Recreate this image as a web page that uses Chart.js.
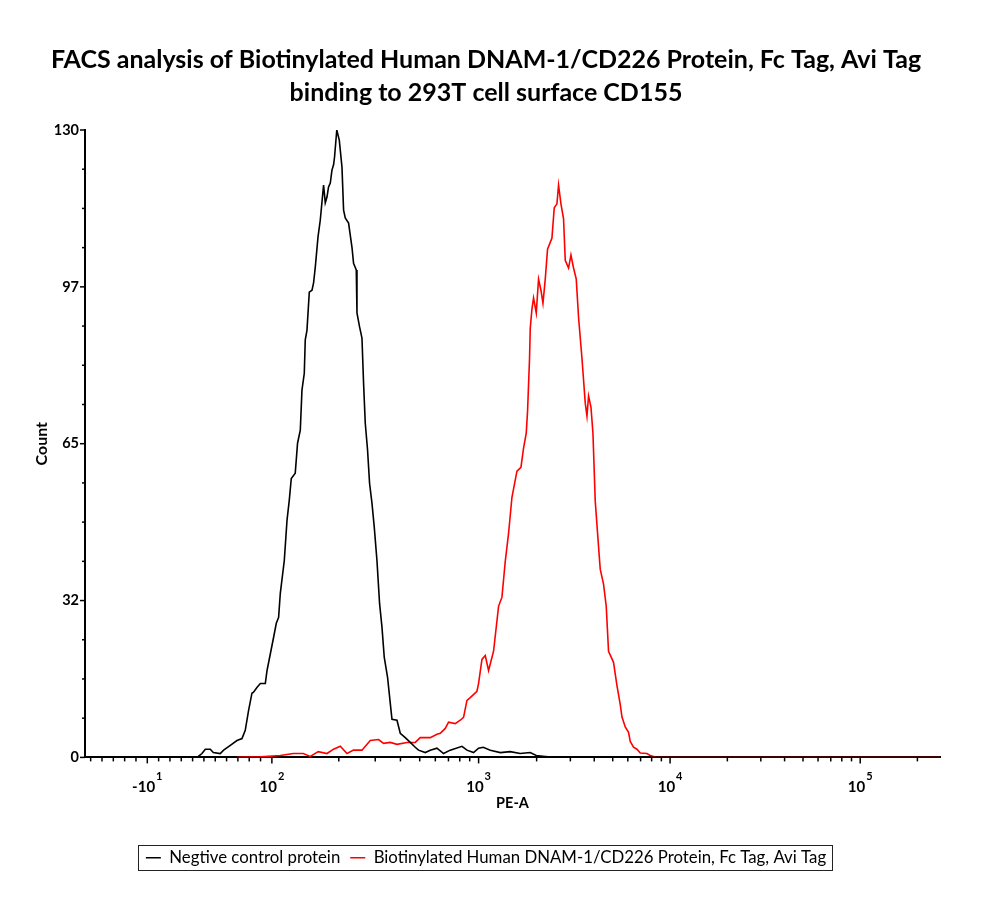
<!DOCTYPE html>
<html>
<head>
<meta charset="utf-8">
<script src="https://cdn.jsdelivr.net/npm/chart.js@4.4.1/dist/chart.umd.min.js"></script>
<style>
  html, body { margin: 0; padding: 0; background: #ffffff; }
  #wrap { width: 1000px; height: 909px; }
</style>
</head>
<body>
<div id="wrap"><canvas id="c" width="1000" height="909"></canvas></div>
<script>
// ---------------- data ----------------
const titleLines = ['FACS analysis of Biotinylated Human DNAM-1/CD226 Protein, Fc Tag, Avi Tag',
                    'binding to 293T cell surface CD155'];
const seriesNames = ['Negtive control protein', 'Biotinylated Human DNAM-1/CD226 Protein, Fc Tag, Avi Tag'];

// Negative control (PE-A value, count)
const negX = [-65, 28, 35, 38.3, 41.2, 45.6, 48.3, 54.4, 57.4, 63.3, 69.2, 73.6, 76.5, 79.4, 82.4, 83.8, 86.8, 89.8, 94.2, 95.7,
  98.0, 101.7, 104.4, 106.8, 108.6, 113.0, 116.1, 118.8, 121.2, 126.2, 129.2, 132.9, 135.2, 138.5, 139.9, 142.4, 145.9, 150.1, 152.6, 155.4,
  159.9, 163.8, 169.7, 172.8, 176.0, 179.0, 182.4, 185.7, 189.0, 191.0, 195.7, 201.1, 207.1, 210.8, 214.7, 222.7, 231.2, 235.3, 242.5, 244.4,
  251.6, 258.4, 263.1, 268.1, 275.1, 281.4, 289.1, 296.7, 305.9, 315.1, 323.8, 332.4, 345.1, 356.0, 363.0, 384.4, 399.2, 422.9, 448.0, 474.7,
  493.3, 533.5, 565.5, 611.6, 661.0, 715.1, 821.0, 871.0, 941.9, 999.4, 1057, 1149, 1294, 1458, 1643, 1853, 1991, 2218, 2500, 263000];
const negY = [0, 0, 0.2, 0.8, 1.7, 1.7, 1.0, 0.8, 1.5, 2.5, 3.5, 3.9, 5.6, 9.7, 13.3, 13.5, 14.5, 15.3, 15.3, 18.0,
  20.7, 24.9, 27.8, 29.0, 34.0, 40.8, 49.1, 53.3, 57.8, 58.9, 65.1, 67.8, 76.1, 79.6, 86.5, 88.5, 96.4, 96.8, 98.3, 101.6,
  107.8, 111.3, 118.6, 114.9, 116.1, 118.2, 119.0, 121.7, 122.8, 124.4, 130, 127.9, 122.3, 113.4, 111.8, 110.7, 105.7, 102.4, 101.0, 92.1,
  89.2, 86.9, 77.5, 69.3, 63.7, 56.8, 52.7, 47.7, 40.8, 31.9, 27.0, 20.7, 16.6, 11.2, 7.9, 7.7, 5.0, 4.1, 3.1, 2.1,
  1.5, 1.0, 1.5, 1.9, 0.8, 1.5, 2.3, 1.5, 1.0, 1.9, 2.1, 1.5, 1.0, 1.2, 0.8, 1.0, 0.4, 0.2, 0, 0];

// DNAM-1/CD226 protein (PE-A value, count)
const posX = [69.2, 89.8, 108.6, 123.7, 137.0, 147.4, 160.4, 176.0, 189.0, 203.3, 218.8, 235.3, 258.4, 283.6, 311.5, 329.7, 356.0, 384.4, 431.3, 474.7,
  503.1, 565.5, 611.6, 635.7, 674.2, 700.9, 758.5, 804.6, 836.6, 871.0, 905.7, 980.7, 999.4, 1040.7, 1082.4, 1125.8, 1194.8, 1268.2, 1320.6, 1373.8,
  1429.0, 1488.2, 1579.8, 1657.2, 1709.7, 1765.9, 1793.7, 1837.2, 1852.7, 1890.8, 1927.4, 1991.2, 2046.7, 2106.6, 2157.8, 2218.4, 2280.2, 2404, 2471.4, 2552.9,
  2602.6, 2678.8, 2764, 2821.2, 2935.4, 3021.4, 3117.5, 3220.6, 3311.1, 3449.8, 3589.8, 3664.2, 3735.5, 3845.2, 3938.2, 4049, 4213.3, 4300, 4475.1, 4623.5,
  4753.7, 5048.5, 5260, 5474, 5588, 5816, 6052, 6178, 6429, 6699, 6971, 7560, 7866, 8530, 263000];
const posY = [0, 0.1, 0.4, 0.8, 0.8, 0.2, 1.2, 0.8, 1.7, 2.3, 0.8, 1.5, 1.5, 3.5, 3.7, 2.9, 3.1, 2.7, 3.1, 3.1,
  4.1, 4.1, 4.8, 5.0, 6.0, 7.3, 7.0, 7.7, 8.3, 11.8, 12.4, 13.7, 15.3, 20.3, 21.1, 18.0, 22.0, 31.3, 33.2, 40.6,
  46.4, 53.9, 59.3, 60.1, 64.1, 67.2, 71.7, 82.7, 88.9, 92.9, 95.2, 92.1, 99.1, 96.8, 94.1, 99.1, 105.3, 107.6, 113.9, 114.7,
  118.6, 114.7, 111.6, 103.0, 101.4, 104.1, 101.4, 99.1, 91.2, 82.7, 73.4, 70.7, 74.9, 72.6, 67.2, 53.1, 43.7, 39.0, 35.9, 31.3,
  22.0, 19.7, 14.9, 11.0, 8.4, 6.3, 5.2, 3.3, 2.1, 1.7, 0.9, 0.8, 0.4, 0, 0];

// axis ticks
const xTickValues = [-10, 100, 1000, 10000, 100000];
const xTickBase = ['-10', '10', '10', '10', '10'];
const xTickExp = ['1', '2', '3', '4', '5'];
const yTickValues = [0, 32.5, 65, 97.5, 130];
const yTickLabels = ['0', '32', '65', '97', '130'];
const xMin = -65, xMax = 263000, yMin = 0, yMax = 130;

// ---------------- biexponential-like display transform ----------------
const LOG_OFFSET = 20, LIN_CUT = 100, LIN_SLOPE = 0.0059616;
function fwd(v) {
  return v >= LIN_CUT ? Math.log10(v - LOG_OFFSET)
                      : Math.log10(LIN_CUT - LOG_OFFSET) + (v - LIN_CUT) * LIN_SLOPE;
}
function inv(t) {
  const tc = Math.log10(LIN_CUT - LOG_OFFSET);
  return t >= tc ? Math.pow(10, t) + LOG_OFFSET : LIN_CUT + (t - tc) / LIN_SLOPE;
}
class BiexScale extends Chart.LinearScale {
  getPixelForValue(value) {
    const a = fwd(this.min), b = fwd(this.max);
    return this.getPixelForDecimal((fwd(value) - a) / (b - a));
  }
  getValueForPixel(pixel) {
    const a = fwd(this.min), b = fwd(this.max);
    return inv(a + this.getDecimalForPixel(pixel) * (b - a));
  }
}
BiexScale.id = 'biex';
BiexScale.defaults = {};
Chart.register(BiexScale);

// minor tick marks
const xMinor = [];
for (let v = -60; v <= 90; v += 10) if (v !== -10) xMinor.push(v);
[100, 1000, 10000, 100000].forEach(d => { for (let m = 2; m <= 9; m++) if (m * d <= xMax) xMinor.push(m * d); });
const yMinor = [];
for (let k = 0; k <= 16; k++) if (k % 4 !== 0) yMinor.push(k * yMax / 16);

const axisDecor = {
  id: 'axisDecor',
  afterDraw(chart) {
    const ctx = chart.ctx, xs = chart.scales.x, ys = chart.scales.y;
    ctx.save();
    ctx.strokeStyle = '#000';
    ctx.lineWidth = 1.5;
    const bottom = chart.chartArea.bottom, left = chart.chartArea.left;
    const line = (x1, y1, x2, y2) => { ctx.beginPath(); ctx.moveTo(x1, y1); ctx.lineTo(x2, y2); ctx.stroke(); };
    xTickValues.forEach(v => { const p = xs.getPixelForValue(v); line(p, bottom, p, bottom + 6); });
    xMinor.forEach(v => { const p = xs.getPixelForValue(v); line(p, bottom, p, bottom + 4); });
    yTickValues.forEach(v => { const p = ys.getPixelForValue(v); line(left - 5, p, left, p); });
    yMinor.forEach(v => { const p = ys.getPixelForValue(v); line(left - 3, p, left, p); });

    // x tick labels with superscript exponents
    ctx.fillStyle = '#000';
    ctx.textBaseline = 'alphabetic';
    ctx.textAlign = 'left';
    const baseFont = 'bold 15px Lato', expFont = 'bold 11px Lato';
    xTickValues.forEach((v, i) => {
      const p = xs.getPixelForValue(v);
      ctx.font = baseFont; const wb = ctx.measureText(xTickBase[i]).width;
      ctx.font = expFont; const we = ctx.measureText(xTickExp[i]).width;
      const x0 = p - (wb + we + 1) / 2;
      ctx.font = baseFont; ctx.fillText(xTickBase[i], x0, bottom + 35);
      ctx.font = expFont; ctx.fillText(xTickExp[i], x0 + wb + 1, bottom + 23);
    });

    // legend frame
    const lg = chart.legend;
    if (lg && lg.legendHitBoxes && lg.legendHitBoxes.length) {
      const hb = lg.legendHitBoxes;
      const l = hb[0].left - 8;
      const r = hb[hb.length - 1].left + hb[hb.length - 1].width + 6;
      const cy = hb[0].top + hb[0].height / 2;
      ctx.lineWidth = 1;
      ctx.strokeStyle = '#222';
      ctx.strokeRect(Math.round(l) + 0.5, Math.round(cy - 12.5) + 0.5, Math.round(r - l), 25);
    }
    ctx.restore();
  }
};

Chart.defaults.font.family = 'Lato, "Open Sans", sans-serif';
Chart.defaults.color = '#000';

new Chart(document.getElementById('c'), {
  type: 'line',
  data: {
    datasets: [
      { label: seriesNames[0], data: negX.map((x, i) => ({ x, y: negY[i] })),
        borderColor: '#000000', backgroundColor: '#000000', borderWidth: 1.6, pointRadius: 0, tension: 0, fill: false },
      { label: seriesNames[1], data: posX.map((x, i) => ({ x, y: posY[i] })),
        borderColor: '#ff0000', backgroundColor: '#ff0000', borderWidth: 1.6, pointRadius: 0, tension: 0, fill: false }
    ]
  },
  options: {
    responsive: false,
    animation: false,
    devicePixelRatio: 1,
    layout: { padding: { top: 43.5, left: 32, right: 60, bottom: 32.8 } },
    plugins: {
      title: { display: true, text: titleLines, font: { family: 'Lato', size: 25, weight: 'bold', lineHeight: 1.32 },
               color: '#000', padding: { top: 0, bottom: 20.5 } },
      legend: { position: 'bottom',
                labels: { usePointStyle: true, pointStyle: 'line', pointStyleWidth: 15, padding: 10,
                          font: { family: 'Lato', size: 16.8 }, color: '#000' } },
      tooltip: { enabled: false }
    },
    scales: {
      x: {
        type: 'biex', min: xMin, max: xMax, bounds: 'data',
        afterFit: s => { s.height = 82; },
        afterBuildTicks: s => { s.ticks = xTickValues.map(v => ({ value: v })); },
        grid: { display: false, drawTicks: false },
        border: { display: true, color: '#000', width: 2 },
        ticks: { display: false, autoSkip: false, maxRotation: 0, minRotation: 0 },
        title: { display: true, text: 'PE-A', font: { family: 'Lato', size: 14.5, weight: 'bold' }, color: '#000',
                 padding: { top: 0, bottom: 27.6 } }
      },
      y: {
        type: 'linear', min: yMin, max: yMax,
        afterFit: s => { s.width = 53; },
        afterBuildTicks: s => { s.ticks = yTickValues.map(v => ({ value: v })); },
        grid: { display: false, drawTicks: false },
        border: { display: true, color: '#000', width: 2 },
        ticks: { autoSkip: false, padding: 6, font: { family: 'Lato', size: 14.5, weight: 'bold' }, color: '#000',
                 callback: v => yTickLabels[yTickValues.indexOf(v)] },
        title: { display: true, text: 'Count', font: { family: 'Lato', size: 16, weight: 'bold' }, color: '#000',
                 padding: { top: 0, bottom: 0 } }
      }
    }
  },
  plugins: [axisDecor]
});
</script>
</body>
</html>
